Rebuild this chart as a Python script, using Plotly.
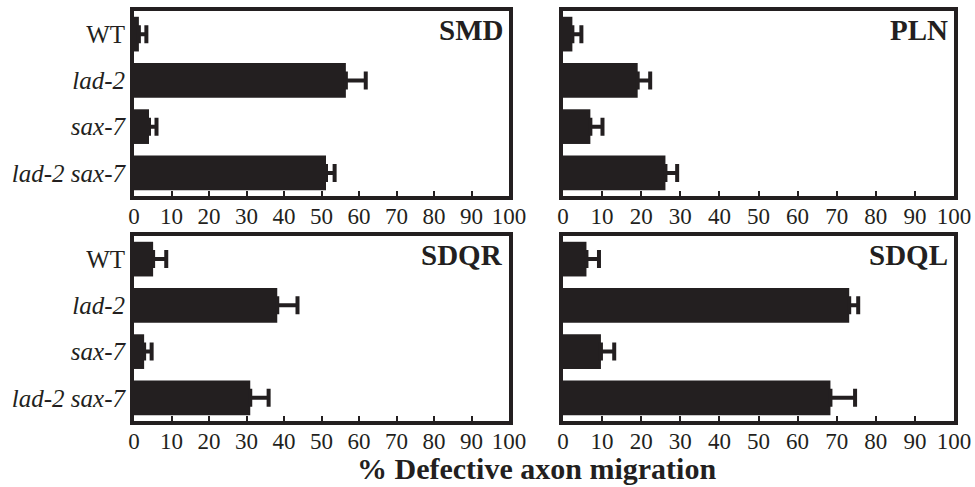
import plotly.graph_objects as go

categories = ["WT", "lad-2", "sax-7", "lad-2 sax-7"]
category_labels = ["WT", "<i>lad-2</i>", "<i>sax-7</i>", "<i>lad-2 sax-7</i>"]
panel_names = ["SMD", "PLN", "SDQR", "SDQL"]

smd_values = [1.3, 56.5, 4.0, 51.2]
smd_errors = [2.0, 5.3, 2.0, 2.3]
pln_values = [2.4, 19.1, 7.0, 26.2]
pln_errors = [2.3, 3.2, 3.1, 3.0]
sdqr_values = [5.1, 38.2, 2.7, 31.0]
sdqr_errors = [3.5, 5.4, 2.0, 4.9]
sdql_values = [6.0, 73.2, 9.7, 68.4]
sdql_errors = [3.2, 2.3, 3.4, 6.3]

x_ticks = [0, 10, 20, 30, 40, 50, 60, 70, 80, 90, 100]
x_title = "% Defective axon migration"

values = [smd_values, pln_values, sdqr_values, sdql_values]
errors = [smd_errors, pln_errors, sdqr_errors, sdql_errors]

INK = "#231f20"
FONT = "Liberation Serif, Times New Roman, serif"
W, H = 975, 487

# panel pixel boxes (left, right, top, bottom)
boxes = [(134, 509, 11, 196), (563, 954, 11, 196),
         (134, 509, 236, 421), (563, 954, 236, 421)]

fig = go.Figure()
layout = dict(
    width=W, height=H, margin=dict(l=0, r=0, t=0, b=0, pad=0, autoexpand=False),
    paper_bgcolor="white", plot_bgcolor="white", showlegend=False,
    font=dict(family=FONT, color=INK), bargap=0.25,
)
annotations = []
for i in range(4):
    n = "" if i == 0 else str(i + 1)
    xa, ya = "x" + n, "y" + n
    fig.add_trace(go.Bar(
        x=values[i], y=categories, orientation="h",
        marker=dict(color=INK, line=dict(width=0)),
        error_x=dict(type="data", array=errors[i], arrayminus=[0] * 4,
                     symmetric=False, color=INK, thickness=4, width=9),
        xaxis=xa, yaxis=ya,
    ))
    l, r, t, b = boxes[i]
    layout["xaxis" + n] = dict(
        domain=[l / W, r / W], anchor=ya, range=[0, 100],
        tickvals=x_ticks, ticktext=[str(v) for v in x_ticks],
        ticks="inside", ticklen=5, tickwidth=2, tickcolor=INK,
        showline=True, linewidth=4, linecolor=INK, mirror=True,
        showgrid=False, zeroline=False, automargin=False,
        ticklabelstandoff=-4,
        tickfont=dict(family=FONT, size=23, color=INK),
    )
    layout["yaxis" + n] = dict(
        domain=[1 - b / H, 1 - t / H], anchor=xa,
        categoryorder="array", categoryarray=categories,
        autorange="reversed", automargin=False,
        tickvals=categories, ticktext=category_labels,
        showticklabels=(i % 2 == 0), ticks="",
        showline=True, linewidth=4, linecolor=INK, mirror=True,
        showgrid=False, zeroline=False,
        tickfont=dict(family=FONT, size=25, color=INK),
    )
    annotations.append(dict(
        text="<b>" + panel_names[i] + "</b>", showarrow=False,
        xref=xa + " domain", yref=ya + " domain", x=0.99, y=0.995,
        xanchor="right", yanchor="top",
        font=dict(family=FONT, size=29, color=INK),
    ))

annotations.append(dict(
    text="<b>" + x_title + "</b>", showarrow=False,
    xref="paper", yref="paper", x=536 / W, y=1 - 468 / H,
    xanchor="center", yanchor="middle",
    font=dict(family=FONT, size=30, color=INK),
))
layout["annotations"] = annotations
fig.update_layout(**layout)
fig.write_html(
    "out.html",
    config={"displayModeBar": False},
    post_script="document.documentElement.style.margin='0';"
                "document.body.style.margin='0';"
                "document.body.style.overflow='hidden';",
)
